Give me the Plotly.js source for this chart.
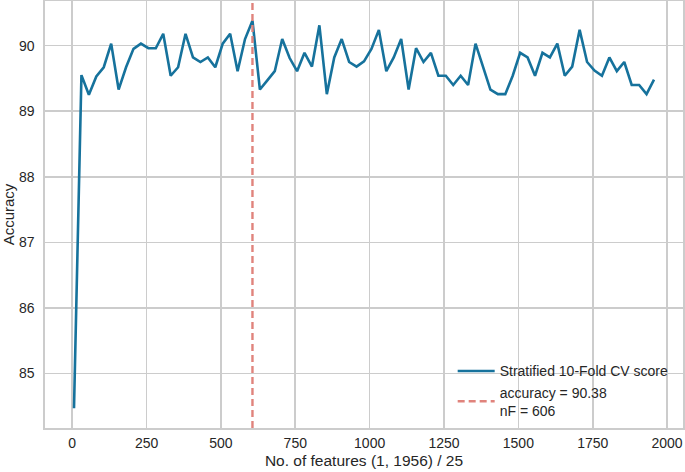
<!DOCTYPE html>
<html>
<head>
<meta charset="utf-8">
<script src="https://cdn.plot.ly/plotly-3.0.1.min.js"></script>
<style>
html,body{margin:0;padding:0;background:#fff;}
#chart{width:685px;height:472px;}
</style>
</head>
<body>
<div id="chart"></div>
<script>
const nFeatures = [6,31,56,81,106,131,156,181,206,231,256,281,306,331,356,381,406,431,456,481,506,531,556,581,606,631,656,681,706,731,756,781,806,831,856,881,906,931,956,981,1006,1031,1056,1081,1106,1131,1156,1181,1206,1231,1256,1281,1306,1331,1356,1381,1406,1431,1456,1481,1506,1531,1556,1581,1606,1631,1656,1681,1706,1731,1756,1781,1806,1831,1856,1881,1906,1931,1956];
const accuracy = [84.47,89.55,89.25,89.53,89.67,90.03,89.33,89.67,89.95,90.03,89.96,89.96,90.18,89.54,89.67,90.18,89.82,89.75,89.82,89.67,90.03,90.18,89.61,90.10,90.38,89.33,89.47,89.61,90.10,89.81,89.61,89.89,89.68,90.31,89.26,89.82,90.10,89.75,89.68,89.76,89.95,90.24,89.61,89.82,90.10,89.33,89.96,89.75,89.89,89.54,89.54,89.40,89.54,89.40,90.03,89.68,89.33,89.26,89.26,89.54,89.89,89.82,89.54,89.89,89.82,90.03,89.54,89.68,90.24,89.75,89.62,89.54,89.82,89.61,89.75,89.40,89.40,89.26,89.48];
const bestNF = 606;
const bestAcc = 90.38;
const seriesName = "Stratified 10-Fold CV score";
const bestName = "accuracy = " + bestAcc.toFixed(2) + "<br>nF = " + bestNF;
const xTicks = [0,250,500,750,1000,1250,1500,1750,2000];
const yTicks = [85,86,87,88,89,90];
const xRange = [-91.5, 2053.5];
const yRange = [84.17, 90.68];

const traces = [
  {x: nFeatures, y: accuracy, type: 'scatter', mode: 'lines', name: seriesName,
   line: {color: '#16729c', width: 2.6}},
  {x: [bestNF, bestNF], y: yRange, type: 'scatter', mode: 'lines', name: bestName,
   line: {color: '#e0837c', width: 2.4, dash: '7px,4px'}}
];
const fam = 'Liberation Sans, Arial, sans-serif';
const axisCommon = {
  showline: true, mirror: true, linecolor: '#cccccc', linewidth: 1.6,
  showgrid: true, gridcolor: '#cccccc', gridwidth: 1.6,
  zeroline: false, ticks: '', tickfont: {family: fam, size: 14, color: '#262626'}
};
const layout = {
  width: 685, height: 472,
  margin: {l: 45, r: 2, t: 1, b: 44},
  paper_bgcolor: '#ffffff', plot_bgcolor: '#ffffff',
  font: {family: fam, color: '#262626'},
  showlegend: true,
  legend: {x: 0.639, y: 0.17, xanchor: 'left', yanchor: 'top', bgcolor: 'rgba(0,0,0,0)',
           itemwidth: 37, font: {size: 14, color: '#262626'}, tracegroupgap: 0},
  xaxis: Object.assign({}, axisCommon, {range: xRange, tickvals: xTicks, ticktext: xTicks.map(String),
    ticklabelstandoff: 2,
    title: {text: 'No. of features (1, 1956) / 25', font: {size: 15.5, color: '#262626'}, standoff: 5}}),
  yaxis: Object.assign({}, axisCommon, {range: yRange, tickvals: yTicks, ticktext: yTicks.map(String),
    ticklabelstandoff: 6,
    title: {text: 'Accuracy', font: {size: 15, color: '#262626'}, standoff: 4}})
};
Plotly.newPlot('chart', traces, layout, {displayModeBar: false, staticPlot: true});
</script>
</body>
</html>
